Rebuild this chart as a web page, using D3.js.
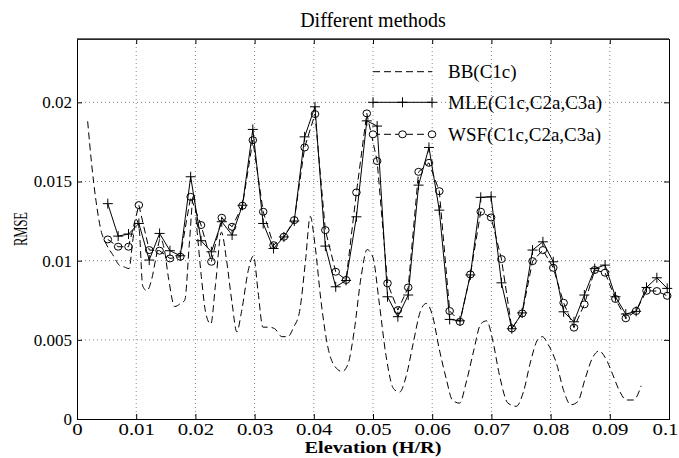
<!DOCTYPE html>
<html>
<head>
<meta charset="utf-8">
<script src="https://cdn.jsdelivr.net/npm/d3@7"></script>
<style>
  body { margin: 0; background: #fff; }
  text { font-family: "Liberation Serif", "Times New Roman", serif; fill: #000; }
</style>
</head>
<body>
<div id="chart"></div>
<script>
// elevation samples (H/R) used by MLE and WSF
var elev = [0.0052,0.00695,0.0087,0.01045,0.0122,0.01395,0.0157,0.01745,0.0192,0.02095,
  0.0227,0.02445,0.0262,0.02795,0.0297,0.03145,0.0332,0.03495,0.0367,0.03845,
  0.0402,0.04195,0.0437,0.04545,0.0472,0.04895,0.0507,0.05245,0.0542,0.05595,
  0.0577,0.05945,0.0612,0.06295,0.0647,0.06645,0.0682,0.06995,0.0717,0.07345,
  0.0752,0.07695,0.0787,0.08045,0.0822,0.08395,0.0857,0.08745,0.0892,0.09095,
  0.0927,0.09445,0.0962,0.09795,0.0997];

var mle = [0.0136,0.01155,0.01168,0.01235,0.01004,0.01172,0.01063,0.01031,0.0153,0.01126,
  0.01056,0.01246,0.01162,0.0135,0.01829,0.01235,0.01077,0.0115,0.0125,0.01782,
  0.01972,0.01092,0.00835,0.00875,0.01277,0.01883,0.0185,0.00772,0.00646,0.00783,
  0.01477,0.01715,0.01319,0.00629,0.0062,0.0091,0.014,0.01403,0.0086,0.0057,
  0.0067,0.01067,0.01119,0.00993,0.00677,0.00614,0.00783,0.0095,0.00972,0.00772,
  0.00663,0.0068,0.00831,0.00892,0.00825];

var wsf = [0.01134,0.01088,0.01088,0.01351,0.01067,0.01063,0.01014,0.01025,0.01403,0.01225,
  0.00993,0.01271,0.01214,0.01347,0.01761,0.01309,0.01098,0.01151,0.01256,0.01715,
  0.01926,0.01193,0.0093,0.00878,0.01431,0.0193,0.01629,0.00857,0.00688,0.00831,
  0.01561,0.01618,0.01439,0.00682,0.00614,0.00913,0.01309,0.01273,0.0101,0.00572,
  0.00667,0.00997,0.01067,0.00955,0.00734,0.00577,0.00724,0.00941,0.00924,0.00758,
  0.00636,0.00682,0.0081,0.00808,0.00778];

// BB is sampled on a finer grid
var bbX = [0.0018,0.0025,0.0032,0.0040,0.0050,0.0060,0.0072,0.0080,0.0088,0.0094,
  0.0100,0.0105,0.0111,0.0118,0.0126,0.0133,0.0141,0.0147,0.0155,0.0165,
  0.0175,0.0182,0.0190,0.0197,0.0203,0.0210,0.0218,0.0226,0.0234,0.0244,
  0.0252,0.0262,0.0270,0.0278,0.0290,0.0298,0.0306,0.0314,0.0324,0.0334,
  0.0346,0.0356,0.0366,0.0376,0.0386,0.0394,0.0402,0.0412,0.0424,0.0436,
  0.0448,0.0458,0.0468,0.0480,0.0490,0.0500,0.0510,0.0522,0.0535,0.0545,
  0.0556,0.0568,0.0580,0.0590,0.0600,0.0612,0.0624,0.0634,0.0646,0.0658,
  0.0670,0.0682,0.0692,0.0702,0.0714,0.0728,0.0742,0.0754,0.0766,0.0778,
  0.0786,0.0796,0.0810,0.0822,0.0834,0.0846,0.0858,0.0870,0.0882,0.0892,
  0.0904,0.0916,0.0928,0.0940,0.0953];
var bbY = [0.0188,0.0160,0.0138,0.0120,0.0110,0.0104,0.0097,0.0096,0.0095,0.0112,
  0.0126,0.0120,0.0084,0.0081,0.0088,0.0101,0.0114,0.0108,0.0088,0.0071,
  0.0073,0.0075,0.0112,0.0142,0.0118,0.0090,0.0066,0.0060,0.0085,0.0118,
  0.0102,0.0073,0.0055,0.0068,0.0095,0.0103,0.0080,0.0058,0.0058,0.0057,
  0.0052,0.0052,0.0058,0.0068,0.0100,0.0128,0.0110,0.0075,0.0045,0.0033,
  0.0030,0.0035,0.0055,0.0090,0.0107,0.0102,0.0075,0.0040,0.0019,0.0017,
  0.0027,0.0048,0.0068,0.0073,0.0066,0.0044,0.0025,0.0012,0.0010,0.0024,
  0.0043,0.0060,0.0062,0.0050,0.0027,0.0010,0.0008,0.0017,0.0036,0.0050,
  0.0052,0.0047,0.0035,0.0018,0.0009,0.0011,0.0025,0.0038,0.0043,0.0039,
  0.0029,0.0018,0.0012,0.0012,0.0021];

var xTicks = [0,0.01,0.02,0.03,0.04,0.05,0.06,0.07,0.08,0.09,0.1];
var yTicks = [0,0.005,0.01,0.015,0.02];
var names = ["BB(C1c)", "MLE(C1c,C2a,C3a)", "WSF(C1c,C2a,C3a)"];

var W = 679, H = 458;
var margin = {top: 39, right: 10, bottom: 39, left: 77};
var w = W - margin.left - margin.right, h = H - margin.top - margin.bottom;

var svg = d3.select("#chart").append("svg")
  .attr("width", W).attr("height", H);
var g = svg.append("g").attr("transform", "translate(" + margin.left + "," + margin.top + ")");

var x = d3.scaleLinear().domain([0, 0.1]).range([0, w]);
var y = d3.scaleLinear().domain([0, 0.024]).range([h, 0]);

// grid
g.append("g").selectAll("line").data(xTicks.slice(1, -1)).enter().append("line")
  .attr("x1", d => x(d)).attr("x2", d => x(d)).attr("y1", 0).attr("y2", h)
  .attr("stroke", "#666").attr("stroke-width", 0.8).attr("stroke-dasharray", "1,3");
g.append("g").selectAll("line").data(yTicks.slice(1)).enter().append("line")
  .attr("y1", d => y(d)).attr("y2", d => y(d)).attr("x1", 0).attr("x2", w)
  .attr("stroke", "#666").attr("stroke-width", 0.8).attr("stroke-dasharray", "1,3");

// axes, ticks inside
var xAx = g.append("g").attr("transform", "translate(0," + h + ")")
  .call(d3.axisBottom(x).tickValues(xTicks).tickSize(-5).tickPadding(5).tickFormat(d3.format("")));
var yAx = g.append("g")
  .call(d3.axisLeft(y).tickValues(yTicks).tickSize(-5).tickPadding(5).tickFormat(d3.format("")));
g.append("g").call(d3.axisTop(x).tickValues(xTicks).tickSize(-5).tickFormat(""));
g.append("g").attr("transform", "translate(" + w + ",0)")
  .call(d3.axisRight(y).tickValues(yTicks).tickSize(-5).tickFormat(""));
g.selectAll(".domain").attr("stroke", "#000");
g.selectAll(".tick line").attr("stroke", "#000");
g.selectAll(".tick text").style("font-family", "Liberation Serif").style("font-size", "16px");
// the x labels are drawn wider in the original; keep the last one inside the page
xAx.selectAll(".tick text").attr("transform", d => d === 0.1 ? "translate(-4,0) scale(1.3,1)" : "scale(1.3,1)");
yAx.selectAll(".tick text").style("font-size", "17px");
// MATLAB-like heavier top edge
g.append("line").attr("x1", 0).attr("x2", w).attr("y1", 0).attr("y2", 0)
  .attr("stroke", "#333").attr("stroke-width", 1.6);

var line = d3.line().x(d => x(d[0])).y(d => y(d[1]));

// BB
var bb = bbX.map((v, i) => [v, bbY[i]]);
g.append("path").datum(bb).attr("d", line.curve(d3.curveMonotoneX))
  .attr("fill", "none").attr("stroke", "#000").attr("stroke-width", 1).attr("stroke-dasharray", "7,4");
line.curve(d3.curveLinear);

// MLE
var mleP = elev.map((v, i) => [v, mle[i]]);
g.append("path").datum(mleP).attr("d", line)
  .attr("fill", "none").attr("stroke", "#000").attr("stroke-width", 1);
function plus(sel, cx, cy) {
  sel.append("path").attr("d", "M" + (cx - 5) + "," + cy + "h10M" + cx + "," + (cy - 5) + "v10")
    .attr("stroke", "#000").attr("stroke-width", 1).attr("fill", "none");
}
var mg = g.append("g");
mleP.forEach(d => plus(mg, x(d[0]), y(d[1])));

// WSF
var wsfP = elev.map((v, i) => [v, wsf[i]]);
g.append("path").datum(wsfP).attr("d", line)
  .attr("fill", "none").attr("stroke", "#000").attr("stroke-width", 1).attr("stroke-dasharray", "7,4");
g.append("g").selectAll("ellipse").data(wsfP).enter().append("ellipse")
  .attr("cx", d => x(d[0])).attr("cy", d => y(d[1])).attr("rx", 3.8).attr("ry", 3.5)
  .attr("fill", "none").attr("stroke", "#000").attr("stroke-width", 1);

// legend
var lx0 = x(0.05), lx1 = lx0 + 59, ly = [71.7 - margin.top, 102.3 - margin.top, 134.3 - margin.top];
var leg = g.append("g");
leg.append("line").attr("x1", lx0).attr("x2", lx1).attr("y1", ly[0]).attr("y2", ly[0])
  .attr("stroke", "#000").attr("stroke-dasharray", "7,4");
leg.append("line").attr("x1", lx0).attr("x2", lx1).attr("y1", ly[1]).attr("y2", ly[1]).attr("stroke", "#000");
[lx0, (lx0 + lx1) / 2, lx1].forEach(cx => plus(leg, cx, ly[1]));
leg.append("line").attr("x1", lx0).attr("x2", lx1).attr("y1", ly[2]).attr("y2", ly[2])
  .attr("stroke", "#000").attr("stroke-dasharray", "7,4");
[lx0, (lx0 + lx1) / 2, lx1].forEach(cx => leg.append("ellipse").attr("cx", cx).attr("cy", ly[2])
  .attr("rx", 3.8).attr("ry", 3.5).attr("fill", "#fff").attr("stroke", "#000"));
leg.selectAll("text").data(names).enter().append("text")
  .attr("x", lx1 + 16).attr("y", (d, i) => ly[i]).attr("dy", "0.35em")
  .style("font-size", "19px").text(d => d);

// titles
svg.append("text").attr("x", margin.left + w / 2).attr("y", 27).attr("text-anchor", "middle")
  .style("font-size", "20px").text("Different methods");
svg.append("text").attr("x", margin.left + w / 2).attr("y", 453).attr("text-anchor", "middle")
  .attr("textLength", 137).attr("lengthAdjust", "spacingAndGlyphs")
  .style("font-size", "16px").style("font-weight", "bold").text("Elevation (H/R)");
svg.append("text").attr("transform", "translate(27," + 229 + ") rotate(-90)")
  .attr("text-anchor", "middle").attr("textLength", 34).attr("lengthAdjust", "spacingAndGlyphs")
  .style("font-size", "19px").text("RMSE");
</script>
</body>
</html>
